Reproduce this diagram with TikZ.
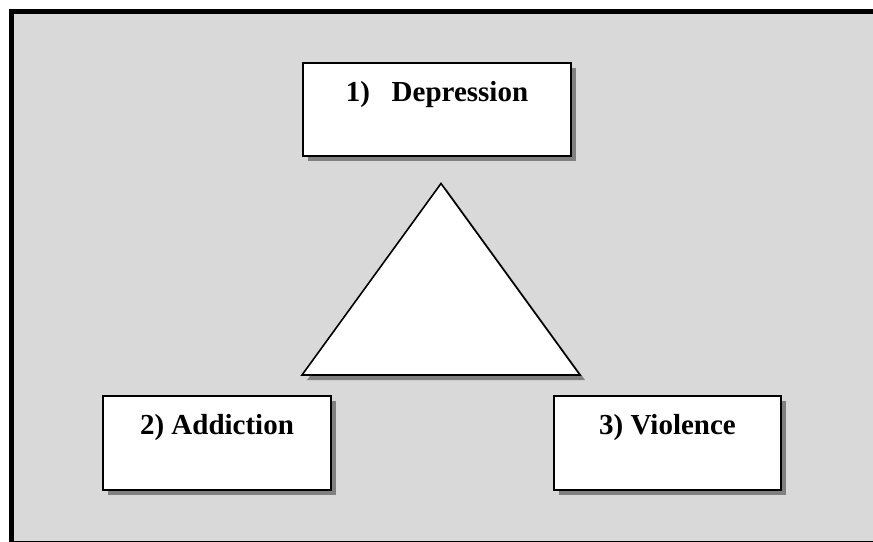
\documentclass[tikz,border=0pt]{standalone}
\usepackage{fontspec}
\setmainfont{Liberation Serif}
\usetikzlibrary{shadows}
\definecolor{panelgray}{HTML}{D9D9D9}
\definecolor{shadowgray}{HTML}{808080}
\tikzset{
  shade5/.style={drop shadow={fill=shadowgray, opacity=1, shadow xshift=5pt, shadow yshift=-5pt}},
  itembox/.style={draw=black, line width=2pt, fill=white, shade5, inner sep=0pt, anchor=north west},
  itemlabel/.style={anchor=base, inner sep=0pt, font=\fontsize{29}{34}\selectfont\bfseries},
  tri/.style={draw=black, line width=1.6pt, fill=white, line join=miter, shade5},
}
\begin{document}
\begin{tikzpicture}[x=1pt, y=-1pt]
  \useasboundingbox (0,0) rectangle (873,541);
  \fill[white] (0,0) rectangle (873,541);
  \clip (0,0) rectangle (873,541);
  % outer panel
  \draw[line width=5pt, fill=panelgray] (11.5,11.5) rectangle (890,543.6);

  % central triangle
  \draw[tri] (441,183.5) -- (302,375) -- (580,375) -- cycle;

  % three boxes
  \node[itembox, minimum width=268pt, minimum height=93pt] (dep) at (302,62) {};
  \node[itembox, minimum width=228pt, minimum height=93.5pt] (add) at (102,395) {};
  \node[itembox, minimum width=227pt, minimum height=93.5pt] (vio) at (553,395) {};

  \node[itemlabel] (deplbl) at ([yshift=-39.5pt]dep.north) {1)~~~Depression};
  \node[itemlabel] (addlbl) at ([yshift=-39.5pt]add.north) {2) Addiction};
  \node[itemlabel] (violbl) at ([yshift=-39.5pt]vio.north) {3) Violence};
\end{tikzpicture}
\end{document}
